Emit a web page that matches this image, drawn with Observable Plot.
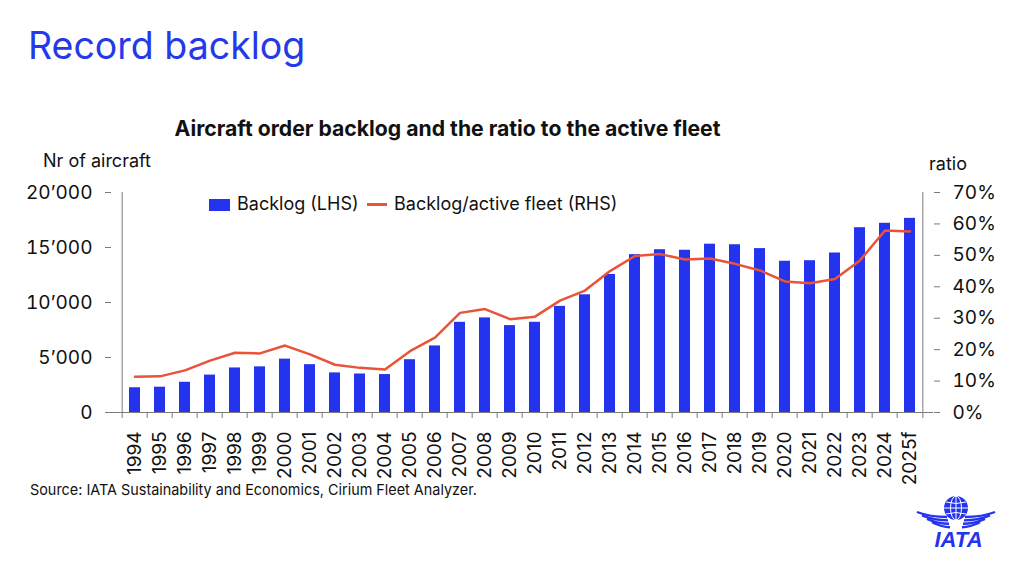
<!DOCTYPE html>
<html>
<head>
<meta charset="utf-8">
<script src="https://cdn.jsdelivr.net/npm/d3@7"></script>
<script src="https://cdn.jsdelivr.net/npm/@observablehq/plot@0.6"></script>
<style>
  html, body { margin: 0; padding: 0; background: #fff; }
  body { width: 1024px; height: 574px; position: relative; overflow: hidden; font-family: Inter, "Noto Sans", sans-serif; color: #111; }
  .t { position: absolute; white-space: nowrap; line-height: 1; }
  #headline { left: 28px; top: 27px; font-size: 37.5px; color: #2639e8; }
  #chart-title { left: 447.5px; top: 117.5px; font-size: 21.2px; font-weight: 700; transform: translateX(-50%); }
  #lhs-label { left: 43px; top: 151.5px; font-size: 18px; }
  #rhs-label { left: 929px; top: 155px; font-size: 18px; }
  #legend { position: absolute; left: 209px; top: 195px; height: 18px; font-size: 18px; }
  #legend .sw-bar { position: absolute; left: 0; top: 3.5px; width: 21px; height: 12px; background: #2434ee; }
  #legend .sw-line { position: absolute; left: 158px; top: 8px; width: 20px; height: 2.5px; background: #e8533a; }
  #legend .lb1 { position: absolute; left: 28px; top: 0; }
  #legend .lb2 { position: absolute; left: 185px; top: 0; }
  #source { left: 30px; top: 482px; font-size: 15px; transform: scaleX(0.96); transform-origin: left; }
  #chart { position: absolute; left: 0; top: 0; }
  #logo { position: absolute; left: 912px; top: 494px; }
</style>
</head>
<body>
<div class="t" id="headline">Record backlog</div>
<div class="t" id="chart-title">Aircraft order backlog and the ratio to the active fleet</div>
<div class="t" id="lhs-label">Nr of aircraft</div>
<div class="t" id="rhs-label">ratio</div>
<div id="legend">
  <div class="sw-bar"></div><div class="t lb1">Backlog (LHS)</div>
  <div class="sw-line"></div><div class="t lb2">Backlog/active fleet (RHS)</div>
</div>
<div id="chart"></div>
<div class="t" id="source">Source: IATA Sustainability and Economics, Cirium Fleet Analyzer.</div>
<svg id="logo" width="90" height="58" viewBox="0 0 90 58">
  <!-- wings: curved stripes on either side of the globe -->
  <g fill="none" stroke="#2434ee" stroke-width="2.4">
    <path d="M5 18 Q18 23 35 23"/>
    <path d="M10 21.4 Q22 26.4 36 26.4"/>
    <path d="M15 24.8 Q26 29.8 37 29.8"/>
    <path d="M20 28.2 Q30 33.2 38 33.2"/>
    <path d="M83 18 Q70 23 53 23"/>
    <path d="M78 21.4 Q66 26.4 52 26.4"/>
    <path d="M73 24.8 Q62 29.8 51 29.8"/>
    <path d="M68 28.2 Q58 33.2 50 33.2"/>
  </g>
  <!-- globe -->
  <circle cx="44" cy="14" r="12" fill="#2434ee"/>
  <g fill="none" stroke="#fff" stroke-width="1">
    <ellipse cx="44" cy="14" rx="5.5" ry="12"/>
    <line x1="44" y1="2" x2="44" y2="26"/>
    <line x1="32" y1="14" x2="56" y2="14"/>
    <path d="M34 8 Q44 11 54 8"/>
    <path d="M34 20 Q44 17 54 20"/>
  </g>
  <text x="46.5" y="52.5" text-anchor="middle" font-family="Liberation Sans, Arial, sans-serif" font-weight="700" font-style="italic" font-size="22" fill="#2434ee">IATA</text>
</svg>
<script>
// Aircraft order backlog (number of aircraft, left axis)
const years = ["1994","1995","1996","1997","1998","1999","2000","2001","2002","2003",
  "2004","2005","2006","2007","2008","2009","2010","2011","2012","2013","2014","2015",
  "2016","2017","2018","2019","2020","2021","2022","2023","2024","2025f"];
const backlog = [2250, 2300, 2750, 3400, 4050, 4150, 4850, 4350, 3600, 3500,
  3450, 4800, 6050, 8200, 8600, 7900, 8200, 9650, 10700, 12550, 14350, 14800,
  14750, 15300, 15250, 14900, 13750, 13800, 14500, 16800, 17200, 17650];
// Backlog as a share of the active fleet (%, right axis)
const ratio = [11.4, 11.5, 13.4, 16.5, 19.0, 18.8, 21.3, 18.5, 15.2, 14.2,
  13.7, 19.5, 23.8, 31.7, 32.9, 29.7, 30.5, 35.6, 38.8, 45.0, 49.8, 50.4,
  48.7, 49.0, 47.3, 45.2, 41.7, 41.1, 42.5, 48.4, 57.9, 57.6];

// Axis ticks
const leftTicks = [0, 5000, 10000, 15000, 20000];
const rightTicks = [0, 10, 20, 30, 40, 50, 60, 70];
const rightTickLabels = ["0%", "10%", "20%", "30%", "40%", "50%", "60%", "70%"];

const leftMax = 20000;
const rightMax = 70;
const toLeft = (p) => p * leftMax / rightMax; // right-axis value in left-axis units

const rows = years.map((year, i) => ({year, backlog: backlog[i], ratio: ratio[i]}));

const blue = "#2434ee";
const red = "#e8533a";
const axisGray = "#7a7a7a";

const W = 1024, H = 574;
const mL = 111, mR = 91, mT = 192, mB = 162;
const step = (W - mL - mR) / years.length;
const tickLen = 6 * leftMax / (H - mT - mB); // 6px expressed in y units

const fmtThousands = (v) => d3.format(",")(v).replace(/,/g, "\u2019");

const chart = Plot.plot({
  width: W,
  height: H,
  marginLeft: mL,
  marginRight: mR,
  marginTop: mT,
  marginBottom: mB,
  style: {fontFamily: "Inter, 'Noto Sans', sans-serif", fontSize: "19px", color: "#111", background: "transparent", overflow: "visible"},
  x: {type: "band", domain: years, paddingInner: 0.56, paddingOuter: 0.28, align: 0.5, label: null},
  y: {domain: [0, leftMax], label: null},
  marks: [
    Plot.barY(rows, {x: "year", y: "backlog", fill: blue}),
    Plot.line(rows, {x: "year", y: (d) => toLeft(d.ratio), stroke: red, strokeWidth: 2.5, strokeLinejoin: "round"}),
    // axis lines
    Plot.ruleY([0], {stroke: axisGray}),
    Plot.ruleX([years[0]], {dx: -step / 2, y1: 0, y2: leftMax, stroke: axisGray}),
    Plot.ruleX([years[years.length - 1]], {dx: step / 2, y1: 0, y2: leftMax, stroke: axisGray}),
    // category ticks between bars
    Plot.ruleX(years, {dx: -step / 2, y1: 0, y2: -tickLen, stroke: axisGray}),
    Plot.ruleX([years[years.length - 1]], {dx: step / 2, y1: 0, y2: -tickLen, stroke: axisGray}),
    Plot.axisY(leftTicks, {anchor: "left", tickSize: 6, tickPadding: 13, tickFormat: fmtThousands, label: null, stroke: axisGray, fill: "#111"}),
    Plot.axisY(rightTicks.map(toLeft), {anchor: "right", tickSize: 6, tickPadding: 13, tickFormat: (d, i) => rightTickLabels[i], label: null, stroke: axisGray, fill: "#111"}),
    Plot.axisX({tickSize: 0, tickPadding: 19, tickRotate: -90, label: null, fill: "#111"})
  ]
});
document.getElementById("chart").appendChild(chart);
</script>
</body>
</html>
